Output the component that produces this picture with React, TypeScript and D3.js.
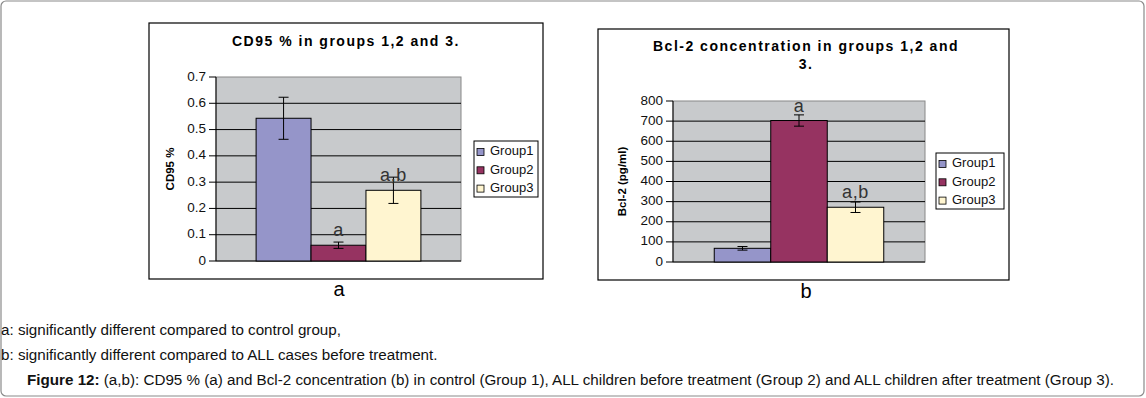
import React from "react";
import * as d3 from "d3";

// groups and series
const groups = ["Group1", "Group2", "Group3"];
const groupColors = ["#9595c9", "#963361", "#fff5d0"];

const cd95Values = [0.543, 0.06, 0.269];
const cd95Errors = [0.08, 0.012, 0.05];
const cd95Marks = ["", "a", "a,b"];
const cd95Ticks = [0, 0.1, 0.2, 0.3, 0.4, 0.5, 0.6, 0.7];

const bclValues = [68, 703, 272];
const bclErrors = [9, 28, 26];
const bclMarks = ["", "a", "a,b"];
const bclTicks = [0, 100, 200, 300, 400, 500, 600, 700, 800];

const footA = "a: significantly different compared to control group,";
const footB = "b: significantly different compared to ALL cases before treatment.";
const captionBold = "Figure 12:";
const captionRest =
  " (a,b): CD95 % (a) and Bcl-2 concentration (b) in control (Group 1), ALL children before treatment (Group 2) and ALL children after treatment (Group 3).";

const FONT = "Arial, 'Liberation Sans', Helvetica, sans-serif";

type ChartProps = {
  frame: { x: number; y: number; w: number; h: number };
  plot: { l: number; t: number; r: number; b: number };
  values: number[];
  errors: number[];
  marks: string[];
  ticks: number[];
  fmt: (v: number) => string;
  titleLines: string[];
  titleX: number;
  titleY: number;
  yLabel: string;
  yLabelX: number;
  legend: { x: number; y: number; w: number; h: number };
  sub: string;
  subX: number;
  subY: number;
};

const BarChart = (p: ChartProps) => {
  const { plot } = p;
  const yScale = d3
    .scaleLinear()
    .domain([0, p.ticks[p.ticks.length - 1]])
    .range([plot.b, plot.t]);
  const xScale = d3
    .scaleBand<string>()
    .domain(groups)
    .range([plot.l, plot.r])
    .paddingInner(0)
    .paddingOuter(0.73);
  const bw = xScale.bandwidth();

  return (
    <g fontFamily={FONT}>
      {/* chart frame */}
      <rect
        x={p.frame.x}
        y={p.frame.y}
        width={p.frame.w}
        height={p.frame.h}
        fill="white"
        stroke="#000"
        strokeWidth={1.2}
      />
      {/* title */}
      {p.titleLines.map((t, i) => (
        <text
          key={i}
          x={p.titleX}
          y={p.titleY + i * 18}
          textAnchor="middle"
          dominantBaseline="middle"
          fontWeight="bold"
          fontSize={14}
          letterSpacing={1.5}
          fill="#000"
        >
          {t}
        </text>
      ))}
      {/* plot area */}
      <rect
        x={plot.l}
        y={plot.t}
        width={plot.r - plot.l}
        height={plot.b - plot.t}
        fill="#c8cacc"
        stroke="#888"
        strokeWidth={1}
      />
      {p.ticks.map((t) => (
        <g key={t}>
          {t > 0 && t < p.ticks[p.ticks.length - 1] && (
            <line
              x1={plot.l}
              x2={plot.r}
              y1={yScale(t)}
              y2={yScale(t)}
              stroke="#000"
              strokeWidth={1}
            />
          )}
          <line
            x1={plot.l - 7}
            x2={plot.l}
            y1={yScale(t)}
            y2={yScale(t)}
            stroke="#000"
            strokeWidth={1}
          />
          <text
            x={plot.l - 10}
            y={yScale(t)}
            textAnchor="end"
            dominantBaseline="middle"
            fontSize={13.5}
            fill="#111"
          >
            {p.fmt(t)}
          </text>
        </g>
      ))}
      <line
        x1={plot.l}
        x2={plot.l}
        y1={plot.t}
        y2={plot.b}
        stroke="#000"
        strokeWidth={1}
      />
      <line
        x1={plot.l}
        x2={plot.r}
        y1={plot.b}
        y2={plot.b}
        stroke="#000"
        strokeWidth={1}
      />
      {/* y label */}
      <text
        transform={`translate(${p.yLabelX},${(plot.t + plot.b) / 2}) rotate(-90)`}
        textAnchor="middle"
        dominantBaseline="middle"
        fontWeight="bold"
        fontSize={11.5}
        fill="#000"
      >
        {p.yLabel}
      </text>
      {/* bars */}
      {groups.map((g, i) => {
        const x = xScale(g) as number;
        const cx = x + bw / 2;
        const v = p.values[i];
        const e = p.errors[i];
        return (
          <g key={g}>
            <rect
              x={x}
              y={yScale(v)}
              width={bw}
              height={plot.b - yScale(v)}
              fill={groupColors[i]}
              stroke="#000"
              strokeWidth={1}
            />
            <line x1={cx} x2={cx} y1={yScale(v + e)} y2={yScale(v - e)} stroke="#000" />
            <line x1={cx - 5} x2={cx + 5} y1={yScale(v + e)} y2={yScale(v + e)} stroke="#000" />
            <line x1={cx - 5} x2={cx + 5} y1={yScale(v - e)} y2={yScale(v - e)} stroke="#000" />
            {p.marks[i] && (
              <text
                x={cx}
                y={yScale(v) - 9}
                textAnchor="middle"
                fontSize={18}
                letterSpacing={0.6}
                fill="#333"
              >
                {p.marks[i]}
              </text>
            )}
          </g>
        );
      })}
      {/* legend */}
      <rect
        x={p.legend.x}
        y={p.legend.y}
        width={p.legend.w}
        height={p.legend.h}
        fill="white"
        stroke="#000"
        strokeWidth={1}
      />
      {groups.map((g, i) => {
        const cy = p.legend.y + 11 + i * 18.3;
        return (
          <g key={g}>
            <rect
              x={p.legend.x + 3}
              y={cy - 3.5}
              width={7}
              height={7}
              fill={groupColors[i]}
              stroke="#000"
              strokeWidth={0.8}
            />
            <text
              x={p.legend.x + 16}
              y={cy}
              dominantBaseline="middle"
              fontSize={13}
              fill="#111"
            >
              {g}
            </text>
          </g>
        );
      })}
      {/* sub-figure letter */}
      <text
        x={p.subX}
        y={p.subY}
        textAnchor="middle"
        dominantBaseline="middle"
        fontSize={20}
        fill="#000"
      >
        {p.sub}
      </text>
    </g>
  );
};

const App = () => {
  return (
    <div style={{ position: "absolute", left: 0, top: 0 }}>
      <svg width={1146} height={398} style={{ display: "block" }}>
        <rect width={1146} height={398} fill="white" />
        <rect
          x={1}
          y={1}
          width={1143}
          height={395}
          rx={5}
          fill="white"
          stroke="#8a8a8a"
          strokeWidth={1.2}
        />
        <BarChart
          frame={{ x: 149, y: 23, w: 394, h: 256 }}
          plot={{ l: 216, t: 77, r: 461, b: 261 }}
          values={cd95Values}
          errors={cd95Errors}
          marks={cd95Marks}
          ticks={cd95Ticks}
          fmt={(v) => String(+v.toFixed(1))}
          titleLines={["CD95 % in groups 1,2 and 3."]}
          titleX={346}
          titleY={42}
          yLabel="CD95 %"
          yLabelX={171}
          legend={{ x: 474, y: 141, w: 64, h: 56 }}
          sub="a"
          subX={339}
          subY={291}
        />
        <BarChart
          frame={{ x: 598, y: 29, w: 411, h: 251 }}
          plot={{ l: 673, t: 101, r: 925, b: 262 }}
          values={bclValues}
          errors={bclErrors}
          marks={bclMarks}
          ticks={bclTicks}
          fmt={(v) => String(v)}
          titleLines={["Bcl-2 concentration in groups 1,2 and", "3."]}
          titleX={806}
          titleY={47}
          yLabel="Bcl-2 (pg/ml)"
          yLabelX={623}
          legend={{ x: 936, y: 153, w: 68, h: 56 }}
          sub="b"
          subX={806}
          subY={293}
        />
        <g fontFamily={FONT} fontSize={15.2} fill="#111">
          <text x={1} y={331} dominantBaseline="middle">
            {footA}
          </text>
          <text x={1} y={356} dominantBaseline="middle">
            {footB}
          </text>
          <text x={27} y={381} dominantBaseline="middle">
            <tspan fontWeight="bold">{captionBold}</tspan>
            <tspan>{captionRest}</tspan>
          </text>
        </g>
      </svg>
    </div>
  );
};

export default App;
